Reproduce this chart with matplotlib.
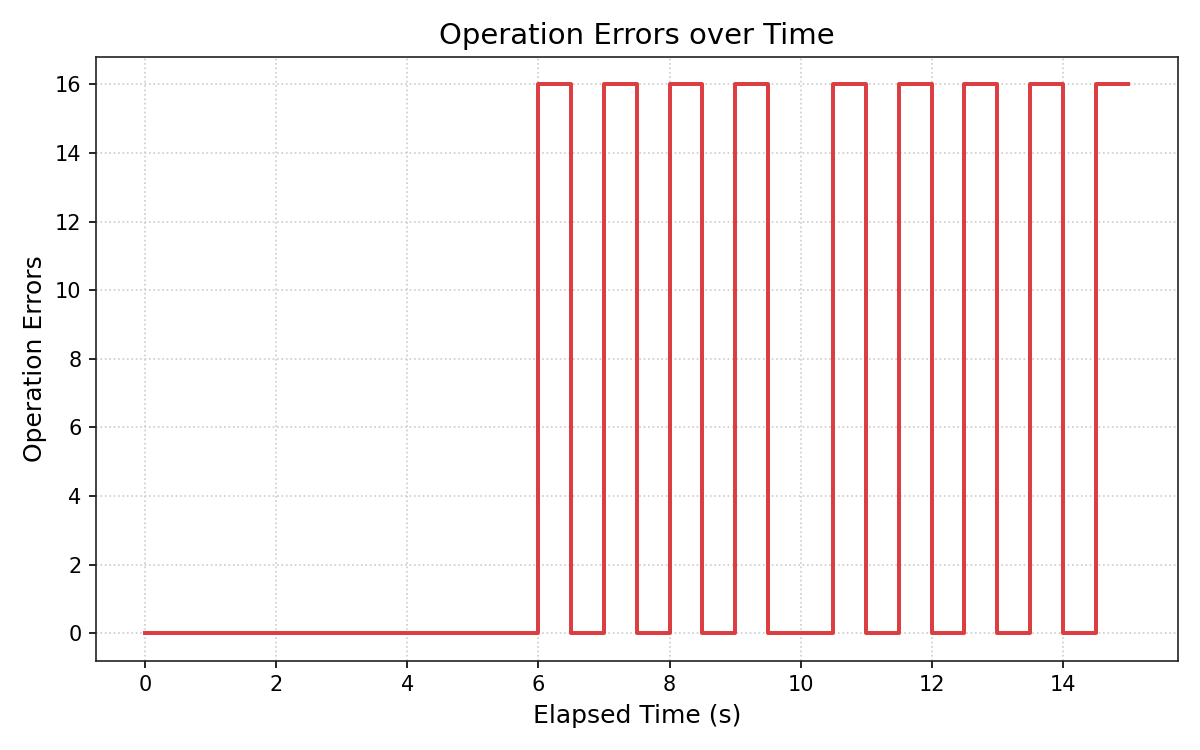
import matplotlib

matplotlib.use("Agg")
import matplotlib.pyplot as plt

# sampled every 0.5 s
elapsed_s = [0.0, 0.5, 1.0, 1.5, 2.0, 2.5, 3.0, 3.5, 4.0, 4.5, 5.0, 5.5,
             6.0, 6.5, 7.0, 7.5, 8.0, 8.5, 9.0, 9.5, 10.0, 10.5, 11.0,
             11.5, 12.0, 12.5, 13.0, 13.5, 14.0, 14.5, 15.0]
op_errors = [0, 0, 0, 0, 0, 0, 0, 0, 0, 0, 0, 0,
             16, 0, 16, 0, 16, 0, 16, 0, 0, 16, 0,
             16, 0, 16, 0, 16, 0, 16, 16]

fig, ax = plt.subplots(figsize=(8, 5), dpi=150)
ax.step(elapsed_s, op_errors, where="post", color="#dc3d40", lw=1.9)

ax.set_title("Operation Errors over Time", fontsize=14)
ax.set_xlabel("Elapsed Time (s)", fontsize=12)
ax.set_ylabel("Operation Errors", fontsize=12)
ax.set_yticks(range(0, 17, 2))
ax.grid(True, linestyle=":", color="#cccccc", lw=0.8)
for sp in ax.spines.values():
    sp.set_color("#222222")

fig.tight_layout()
fig.savefig("out.png", dpi=150)
